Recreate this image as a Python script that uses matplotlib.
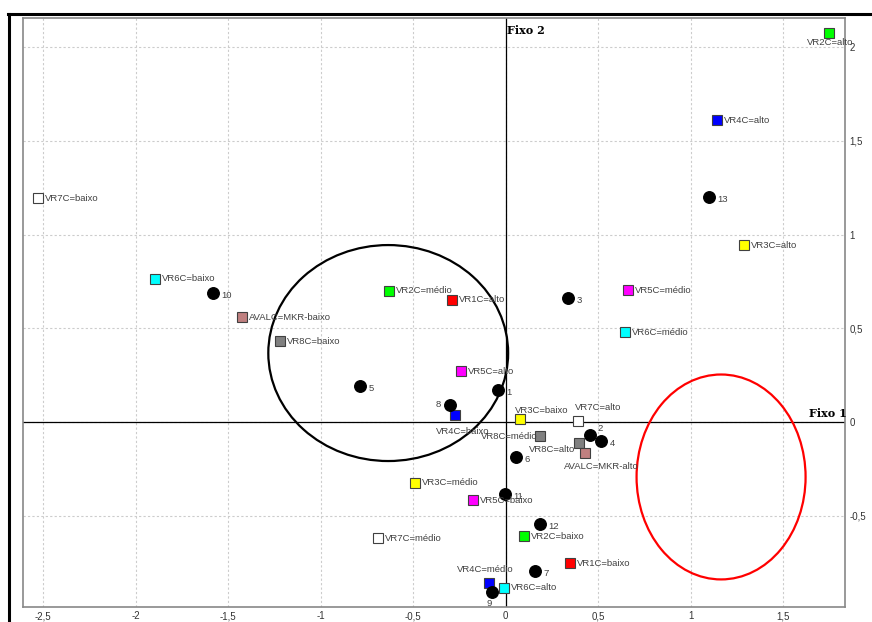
import matplotlib.pyplot as plt
from matplotlib.patches import Ellipse
from matplotlib.lines import Line2D

# modalities (squares)
cat_labels = ["VR2C=alto", "VR4C=alto", "VR3C=alto", "VR5C=médio", "VR6C=médio",
              "VR7C=baixo", "VR6C=baixo", "AVALC=MKR-baixo", "VR8C=baixo", "VR2C=médio",
              "VR1C=alto", "VR5C=alto", "VR4C=baixo", "VR3C=baixo", "VR7C=alto",
              "VR8C=médio", "VR8C=alto", "AVALC=MKR-alto", "VR3C=médio", "VR5C=baixo",
              "VR7C=médio", "VR2C=baixo", "VR1C=baixo", "VR4C=médio", "VR6C=alto"]
cat_x = [1.749, 1.143, 1.289, 0.662, 0.646,
         -2.527, -1.895, -1.424, -1.219, -0.630,
         -0.289, -0.241, -0.273, 0.078, 0.392,
         0.186, 0.397, 0.430, -0.489, -0.176,
         -0.689, 0.100, 0.349, -0.089, -0.008]
cat_y = [2.075, 1.611, 0.944, 0.704, 0.480,
         1.195, 0.763, 0.560, 0.432, 0.699,
         0.651, 0.272, 0.037, 0.016, 0.005,
         -0.075, -0.112, -0.165, -0.325, -0.416,
         -0.619, -0.608, -0.752, -0.859, -0.885]

# individuals (black dots)
obs_labels = ["1", "2", "3", "4", "5", "6", "7", "8", "9", "10", "11", "12", "13"]
obs_x = [-0.041, 0.457, 0.338, 0.516, -0.786, 0.057, 0.159, -0.300, -0.073, -1.581, -0.003, 0.186, 1.100]
obs_y = [0.171, -0.069, 0.661, -0.101, 0.192, -0.187, -0.795, 0.091, -0.907, 0.688, -0.384, -0.544, 1.200]

xticks = [-2.5, -2, -1.5, -1, -0.5, 0, 0.5, 1, 1.5]
yticks = [-0.5, 0, 0.5, 1, 1.5, 2]

var_colors = {"VR1C": "#ff0000", "VR2C": "#00ff00", "VR3C": "#ffff00", "VR4C": "#0000ff",
              "VR5C": "#ff00ff", "VR6C": "#00ffff", "VR7C": "#ffffff", "VR8C": "#808080",
              "AVALC": "#c08080"}

# label placement (offset in points, horizontal alignment)
cat_offsets = {"VR2C=alto": (-16, -6.5, "left"), "VR4C=baixo": (-14, -12, "left"),
               "VR8C=médio": (-2, 0, "right"), "VR8C=alto": (-3, -4.5, "right"),
               "AVALC=MKR-alto": (-15, -9.5, "left"), "VR3C=baixo": (-4, 6.5, "left"),
               "VR7C=alto": (-2.5, 10, "left"), "VR4C=médio": (-23, 10, "left")}
obs_offsets = {"8": (-7, 0, "right"), "9": (-2, -8, "center"), "2": (5, 5, "left")}

plt.rcParams['font.family'] = ['Liberation Sans', 'DejaVu Sans']
fig = plt.figure(figsize=(8.72, 6.22), dpi=100)
ax = fig.add_axes([0.0264, 0.024, 0.9426, 0.947])

ax.set_xlim(-2.61, 1.835)
ax.set_ylim(-0.987, 2.155)

ax.axhline(0, color="black", lw=0.9, zorder=1)
ax.axvline(0, color="black", lw=0.9, zorder=1)

ax.add_patch(Ellipse((-0.635, 0.368), 1.297, 1.152, fill=False, ec="black", lw=1.6, zorder=2))
ax.add_patch(Ellipse((1.165, -0.293), 0.914, 1.093, fill=False, ec="red", lw=1.6, zorder=2))

for lab, x, y in zip(cat_labels, cat_x, cat_y):
    col = var_colors[lab.split("=")[0]]
    ax.plot(x, y, marker="s", ms=7.8, mfc=col, mec="#404040", mew=0.8, ls="none", zorder=4)
    dx, dy, ha = cat_offsets.get(lab, (5, 0, "left"))
    ax.annotate(lab, (x, y), xytext=(dx, dy), textcoords="offset points",
                ha=ha, va="center", fontsize=6.8, color="#404040", zorder=5)

for lab, x, y in zip(obs_labels, obs_x, obs_y):
    ax.plot(x, y, marker="o", ms=8.3, mfc="black", mec="black", ls="none", zorder=4)
    dx, dy, ha = obs_offsets.get(lab, (6, -1.5, "left"))
    ax.annotate(lab, (x, y), xytext=(dx, dy), textcoords="offset points",
                ha=ha, va="center", fontsize=6.8, color="#404040", zorder=5)

ax.text(0.01, 2.09, "Fixo 2", family="DejaVu Serif", fontweight="bold", fontsize=8,
        ha="left", va="center")
ax.text(1.745, 0.048, "Fixo 1", family="DejaVu Serif", fontweight="bold", fontsize=8,
        ha="center", va="center")

ax.set_xticks(xticks)
ax.set_yticks(yticks)
ax.set_xticklabels([("%g" % t).replace(".", ",") for t in xticks])
ax.set_yticklabels([("%g" % t).replace(".", ",") for t in yticks])
ax.yaxis.tick_right()
ax.tick_params(axis="both", labelsize=7, colors="#333333", length=0, pad=3)
ax.grid(True, ls=(0, (2, 2)), color="#cccccc", lw=0.8)
ax.set_axisbelow(True)
for sp in ax.spines.values():
    sp.set_color("#888888")
    sp.set_linewidth(1.2)

# outer frame
fig.add_artist(Line2D([0.009, 1.0], [0.978, 0.978], color="black", lw=2.2))
fig.add_artist(Line2D([0.010, 0.010], [0.0, 0.978], color="black", lw=2.2))

fig.savefig("out.png", dpi=100)
